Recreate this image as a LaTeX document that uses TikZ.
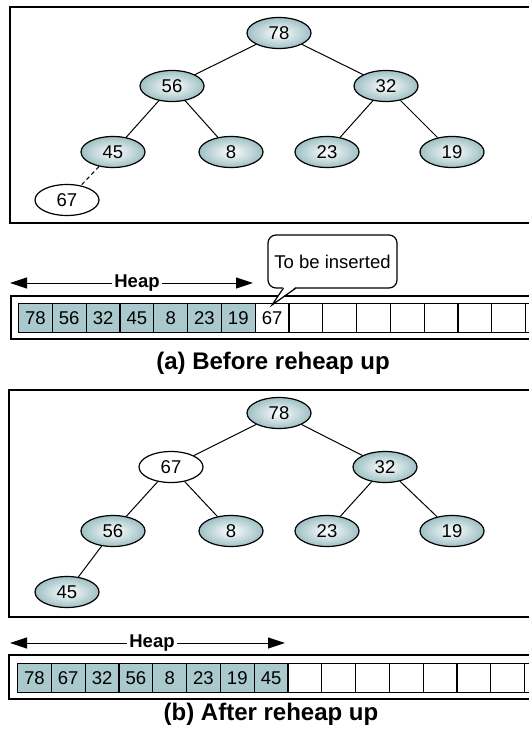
\documentclass[tikz,border=0pt]{standalone}
\usepackage{fontspec}
\setmainfont{Liberation Sans}
\usetikzlibrary{arrows.meta,shapes.geometric,calc}
\definecolor{heapteal}{RGB}{170,201,204}
\definecolor{shadeteal}{RGB}{158,192,196}
\begin{document}
\begin{tikzpicture}[x=1pt,y=-1pt,
  every node/.style={font=\fontsize{18.5}{22}\selectfont},
  hnode/.style={ellipse, draw, line width=1.2pt, minimum width=64pt, minimum height=31pt, inner sep=0pt, shading=radial, inner color=white, outer color=shadeteal},
  wnode/.style={ellipse, draw, line width=1.2pt, minimum width=64pt, minimum height=31pt, inner sep=0pt, fill=white},
  treeedge/.style={line width=1pt},
  frame/.style={draw, line width=1.2pt},
  cellbase/.style={draw, line width=1.1pt, minimum width=33.8pt, minimum height=29pt, inner sep=0pt, anchor=north west},
  cellf/.style={cellbase, fill=heapteal},
  celle/.style={cellbase, fill=white},
  heaparrow/.style={line width=1pt, {Triangle[length=17pt,width=11pt]}-{Triangle[length=17pt,width=11pt]}},
  heaplabel/.style={fill=white, inner sep=2pt, font=\bfseries\fontsize{18.5}{22}\selectfont},
  captionstyle/.style={anchor=base, font=\bfseries\fontsize{24}{28}\selectfont},
  callbox/.style={draw, line width=1.2pt, rounded corners=8pt, minimum width=129pt, minimum height=53pt, inner sep=0pt, fill=white}
]
\useasboundingbox (0,0) rectangle (528,735);

% ---------- (a) ----------
\draw[frame] (10,7) rectangle (545,223);
\node[hnode] (ta78) at (279,33) {78};
\node[hnode] (ta56) at (172,86) {56};
\node[hnode] (ta32) at (386,86) {32};
\node[hnode] (ta45) at (113,152) {45};
\node[hnode] (ta8)  at (231,152) {8};
\node[hnode] (ta23) at (327,152) {23};
\node[hnode] (ta19) at (452,152) {19};
\node[wnode] (ta67) at (67,200) {67};
\draw[treeedge] (ta78) -- (ta56);
\draw[treeedge] (ta78) -- (ta32);
\draw[treeedge] (ta56) -- (ta45);
\draw[treeedge] (ta56) -- (ta8);
\draw[treeedge] (ta32) -- (ta23);
\draw[treeedge] (ta32) -- (ta19);
\draw[treeedge, dash pattern=on 4pt off 3pt] (ta45) -- (ta67);

\coordinate (hla) at (10,283);
\coordinate (hra) at (253,283);
\draw[heaparrow] (hla) -- (hra);
\node[heaplabel] (heapa) at (137,283) {Heap};

\draw[frame] (11,296) rectangle (545,339);
\foreach \v [count=\i from 0] in {78,56,32,45,8,23,19}
  \node[cellf] (a\i) at ({18+33.8*\i},303) {\v};
\node[celle] (a7) at ({18+33.8*7},303) {67};
\foreach \i in {8,...,15}
  \node[celle] (a\i) at ({18+33.8*\i},303) {};

\node[callbox] (call) at (332.5,261.5) {To be inserted};
\coordinate (tip) at (272,305);
\fill[white] (283.5,286.5) -- (tip) -- (296,286.5) -- cycle;
\draw[line width=1.2pt] (283.5,288) -- (tip) -- (296,288);

\node[captionstyle] (capa) at (273,369) {(a) Before reheap up};

% ---------- (b) ----------
\draw[frame] (9,390) rectangle (545,617);
\node[hnode] (tb78) at (279,413) {78};
\node[wnode] (tb67) at (171,467) {67};
\node[hnode] (tb32) at (385,467) {32};
\node[hnode] (tb56) at (113,531) {56};
\node[hnode] (tb8)  at (231,531) {8};
\node[hnode] (tb23) at (327,531) {23};
\node[hnode] (tb19) at (452,531) {19};
\node[hnode] (tb45) at (67,592) {45};
\draw[treeedge] (tb78) -- (tb67);
\draw[treeedge] (tb78) -- (tb32);
\draw[treeedge] (tb67) -- (tb56);
\draw[treeedge] (tb67) -- (tb8);
\draw[treeedge] (tb32) -- (tb23);
\draw[treeedge] (tb32) -- (tb19);
\draw[treeedge] (tb56) -- (tb45);

\coordinate (hlb) at (10,643);
\coordinate (hrb) at (285,643);
\draw[heaparrow] (hlb) -- (hrb);
\node[heaplabel] (heapb) at (152,643) {Heap};

\draw[frame] (9,655) rectangle (545,699);
\foreach \v [count=\i from 0] in {78,67,32,56,8,23,19,45}
  \node[cellf] (b\i) at ({17+33.8*\i},663) {\v};
\foreach \i in {8,...,15}
  \node[celle] (b\i) at ({17+33.8*\i},663) {};

\node[captionstyle] (capb) at (271,720) {(b) After reheap up};
\end{tikzpicture}
\end{document}
